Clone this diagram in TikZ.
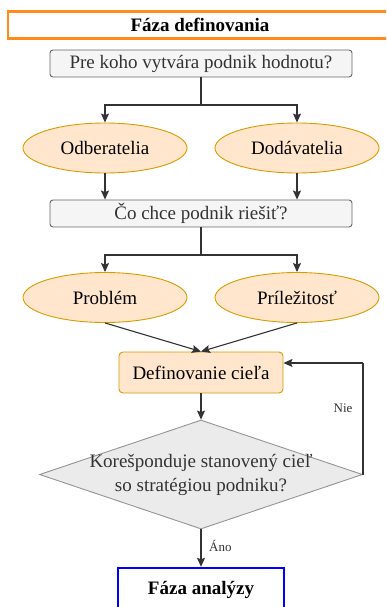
\documentclass[tikz,border=0pt]{standalone}
\usepackage{fontspec}
\setmainfont{Liberation Serif}
\usetikzlibrary{shapes.geometric,arrows.meta}
\definecolor{phaseorange}{HTML}{FF8C1A}
\definecolor{softorange}{HTML}{FFE6CC}
\definecolor{darkorange}{HTML}{D79B00}
\definecolor{boxgray}{HTML}{F5F5F5}
\definecolor{edgegray}{HTML}{666666}
\definecolor{diagray}{HTML}{EBEBEB}
\definecolor{inkgray}{HTML}{333333}
\tikzset{
  x=1pt, y=-1pt,
  every node/.style={font=\fontsize{19}{24}\selectfont, text=black, inner sep=0pt},
  question/.style={draw=edgegray, fill=boxgray, rounded corners=3pt, text=inkgray,
    line width=0.9pt, minimum width=302pt, minimum height=27pt},
  party/.style={ellipse, draw=darkorange, fill=softorange, line width=0.9pt,
    minimum width=164pt, minimum height=50pt},
  goalbox/.style={draw=darkorange, fill=softorange, rounded corners=4pt, line width=0.9pt,
    minimum width=164pt, minimum height=41pt},
  decision/.style={diamond, draw=edgegray!70, fill=diagray, aspect=2.96,
    line width=0.9pt, minimum width=323pt, minimum height=109pt},
  decisiontext/.style={align=center, text=inkgray, font=\fontsize{19}{24}\selectfont},
  phase/.style={draw, line width=2.4pt, fill=white, font=\bfseries\fontsize{19}{22}\selectfont},
  flow/.style={draw=inkgray, line width=1.1pt, -{Stealth[length=9pt,width=8pt,inset=1.5pt]}},
  link/.style={draw=inkgray, line width=1.1pt},
  tag/.style={font=\fontsize{13}{15}\selectfont, text=inkgray}
}
\begin{document}
\begin{tikzpicture}
\useasboundingbox (0,0) rectangle (386,607);
\clip (0,0) rectangle (386,607);

% phase header
\node[phase, draw=phaseorange, minimum width=384pt, minimum height=27pt] (head) at (200,25) {Fáza definovania};

% first question and the two parties
\node[question] (q1) at (201,63.5) {Pre koho vytvára podnik hodnotu?};
\node[party] (odb) at (105,148) {Odberatelia};
\node[party] (dod) at (297,148) {Dodávatelia};
\node[question] (q2) at (201,213.5) {Čo chce podnik riešiť?};

\coordinate (s1) at (201,105);
\draw[link] (q1.south) -- (s1);
\draw[flow] (s1) -| (odb.north);
\draw[flow] (s1) -| (dod.north);
\draw[flow] (odb.south) -- (odb.south |- q2.north);
\draw[flow] (dod.south) -- (dod.south |- q2.north);

% problem or opportunity
\node[party] (prob) at (105,297.5) {Problém};
\node[party] (opp) at (297,297.5) {Príležitosť};
\coordinate (s2) at (201,255);
\draw[link] (q2.south) -- (s2);
\draw[flow] (s2) -| (prob.north);
\draw[flow] (s2) -| (opp.north);

% goal definition
\node[goalbox] (goal) at (201,372.5) {Definovanie cieľa};
\draw[flow] (prob.south) -- (goal.north);
\draw[flow] (opp.south) -- (goal.north);

% strategy check
\node[decision, label={[decisiontext]center:Korešponduje stanovený cieľ\\so stratégiou podniku?}] (check) at (201,474.5) {};
\draw[flow] (goal.south) -- (check.north);

\coordinate (back) at (check.east |- 0,363);
\draw[link] (check.east) -- (back);
\draw[flow] (back) -- (goal.east |- back);
\node[tag] (nie) at (343,408) {Nie};

% next phase
\node[phase, draw=blue, minimum width=166pt, minimum height=44pt] (next) at (201,590) {Fáza analýzy};
\draw[flow] (check.south) -- (next.north);
\node[tag, anchor=west] (ano) at (209,546) {Áno};
\end{tikzpicture}
\end{document}
